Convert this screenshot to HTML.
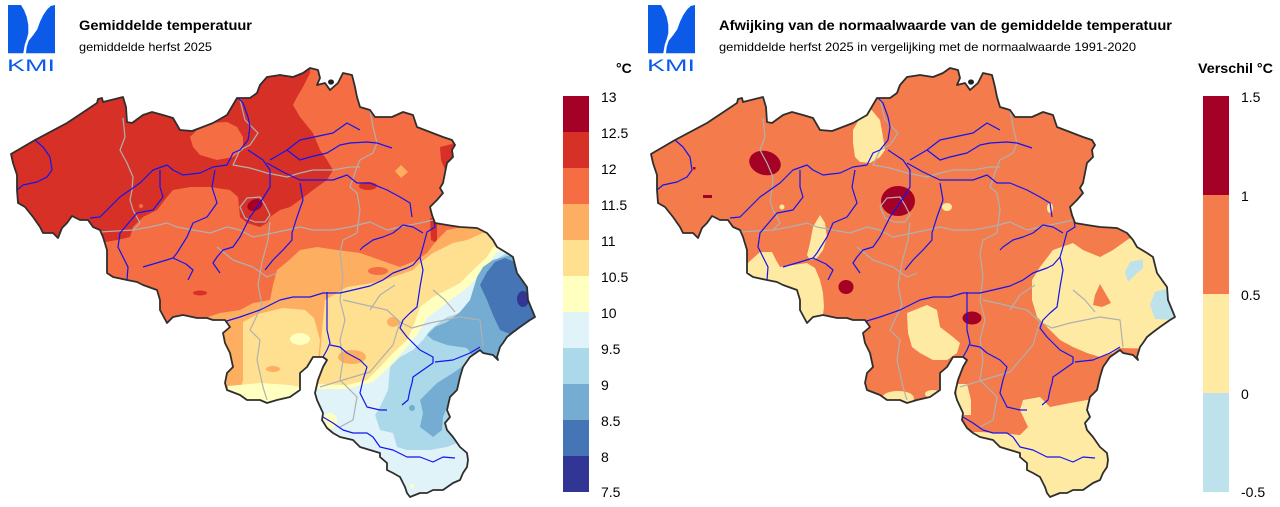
<!DOCTYPE html>
<html><head><meta charset="utf-8"><style>
html,body{margin:0;padding:0;background:#fff;}
svg{display:block;}
text{font-family:"Liberation Sans",Arial,sans-serif;}
</style></head><body>
<svg width="1280" height="507" viewBox="0 0 1280 507" xmlns="http://www.w3.org/2000/svg">
<defs>
<path id="bel" d="M11,154 L35,140 L67,123 L97,103 L98,99 L102,98 L103,102 L123,97 L126,107 L127,122 L132,123 L143,115 L152,112 L163,115 L173,118 L180,130 L192,131 L200,128 L213,123 L227,115 L237,98 L250,98 L257,93 L260,85 L267,77 L280,75 L293,77 L303,73 L310,68 L318,70 L320,78 L317,85 L325,83 L330,90 L338,83 L343,73 L352,75 L355,87 L357,97 L360,107 L370,110 L375,117 L392,117 L403,112 L413,115 L417,127 L430,132 L443,137 L452,140 L455,145 L452,150 L453,157 L447,163 L445,173 L443,183 L440,188 L443,193 L437,200 L430,207 L432,215 L435,223 L447,225 L460,227 L477,228 L487,233 L493,240 L497,247 L507,253 L513,257 L517,273 L527,287 L528,300 L535,317 L530,320 L520,327 L512,333 L507,337 L503,343 L500,347 L497,357 L498,360 L493,355 L483,353 L480,350 L470,357 L463,367 L460,377 L457,390 L450,397 L447,410 L450,417 L445,423 L447,430 L453,437 L460,447 L467,453 L468,460 L467,467 L463,473 L460,480 L453,483 L443,490 L433,490 L427,493 L420,493 L410,497 L407,493 L405,487 L400,477 L393,473 L387,470 L387,463 L380,457 L380,453 L370,450 L360,447 L353,440 L340,437 L333,433 L327,428 L322,420 L323,413 L317,400 L315,393 L318,380 L323,367 L327,360 L323,357 L313,357 L307,367 L300,373 L300,390 L290,397 L277,400 L267,403 L260,400 L247,400 L240,395 L227,390 L225,383 L227,373 L233,367 L230,353 L225,343 L223,333 L230,327 L225,320 L213,320 L207,318 L197,318 L183,315 L173,317 L167,323 L160,310 L160,300 L157,290 L143,285 L137,282 L127,280 L113,277 L107,273 L107,250 L103,237 L100,230 L93,227 L88,220 L80,220 L72,216 L67,223 L62,228 L58,238 L53,233 L43,233 L40,227 L33,217 L25,207 L18,203 L17,190 L17,175 L13,163 Z"/>
<clipPath id="cb" clipPathUnits="userSpaceOnUse"><use href="#bel"/></clipPath>
<g id="prov" fill="none" stroke="#b0b0b0" stroke-width="1.2" stroke-linejoin="round">
<path d="M123,118 L125,137 L120,150 L127,163 L133,177 L132,190 L130,200 L133,210 L140,223 L133,230"/>
<path d="M100,232 L133,230 L150,227 L167,223 L177,227 L193,230 L210,233 L227,227 L240,230 L253,237 L273,233 L287,230 L300,227 L313,230 L333,230 L350,227 L370,222 L387,230 L400,227 L420,223 L433,220"/>
<path d="M240,100 L245,120 L258,133 L250,145 L240,150 L233,165 L250,168 L267,173 L287,177 L300,173 L313,170 L333,170 L350,167 L360,167"/>
<path d="M370,110 L373,127 L377,143 L373,153 L360,160 L357,167 L350,187 L357,193 L360,210 L357,233 L343,240 L340,253 L343,277 L340,300 L345,320 L340,340 L343,360 L340,380 L357,397 L353,420 L340,427"/>
<path d="M240,207 L247,198 L260,197 L265,205 L270,215 L265,222 L255,222 L245,218 Z"/>
<path d="M270,222 L268,240 L262,262 L258,285 L262,305 L250,330 L260,340 L257,360 L263,387 L267,400"/>
<path d="M217,247 L233,260 L253,267 L267,277 L277,273"/>
<path d="M343,300 L365,305 L387,310 L400,322 L412,328 L430,323 L460,317 L480,320 L483,347 M400,322 L393,345 L380,360 L370,372 L343,380 L320,387"/>
<path d="M433,290 L445,300 L455,312 M395,285 L380,295 L370,310"/>
</g>
<g id="riv" fill="none" stroke="#1414f0" stroke-width="1.2" stroke-linejoin="round">
<path d="M35,140 L43,147 L50,157 L52,170 L47,177 L37,182 L23,185 L17,190"/>
<path d="M90,218 L100,217 L120,197 L140,183 L153,170 L167,165 L173,170 L183,175 L200,173 L213,167 L227,165 L233,153 L240,150 L248,140 L250,127 L248,117 L243,103 L238,98"/>
<path d="M127,280 L128,267 L123,257 L118,247 L120,233 L137,213 L153,210 L163,197 L160,187 L160,170"/>
<path d="M215,170 L212,187 L217,203 L207,217 L193,223 L187,237 L182,245 L177,253 L173,258 L160,262 L143,267"/>
<path d="M173,258 L186,264 L193,270 L188,280"/>
<path d="M248,150 L263,160 L270,170 L270,187 L260,203 L250,217 L240,237 L233,247 L223,250 L217,257 L213,263 L220,273"/>
<path d="M270,160 L287,150 L300,140 L333,133 L347,123 L360,130"/>
<path d="M287,150 L300,160 L310,157 L327,153 L340,145 L350,143 L367,142 L377,143 L392,148"/>
<path d="M267,163 L283,172 L300,180 L333,180 L347,175 L357,183 L370,183 L387,190 L400,197 L410,203 L412,217"/>
<path d="M300,183 L303,200 L297,217 L292,233 L292,240 L283,250 L273,260 L265,270"/>
<path d="M433,213 L435,227 L427,232 L423,247 L420,257 L413,265 L407,268 L393,273 L383,280 L370,286 L353,290 L340,293 L323,293 L310,297 L293,297 L280,300 L260,310 L240,317 L220,323"/>
<path d="M327,292 L327,313 L327,330 L330,343 L327,350 L323,357"/>
<path d="M330,345 L340,347 L347,353 L360,360 L367,367 L363,380 L360,393 L367,407 L380,410 L387,410"/>
<path d="M420,257 L423,270 L420,287 L417,307 L410,313 L403,320 L400,328 L407,337 L413,343 L420,350 L433,357 L433,363 L423,370 L413,377 L412,383 L410,390 L408,400 L402,405"/>
<path d="M435,362 L453,360 L470,353 L480,347"/>
<path d="M323,417 L333,423 L343,430 L353,433 L367,433 L373,437 L380,447 L393,450 L407,457 L420,457 L433,462 L443,457 L455,458"/>
<path d="M360,250 L363,247 L373,240 L383,237 L393,233 L403,225 L413,227 L423,233"/>
</g>
<g id="logo">
<path fill="#0b5be8" d="M8,5 L21,5 L24,10 L26.7,16.7 L28.3,25 L28.3,33.3 L26.7,39.3 L24.7,45 L23.3,53.3 L8,53.3 Z"/>
<path fill="#0b5be8" d="M50.7,6 L55,5 L55,53.3 L26,53.3 L26.7,46.7 L28.7,40.7 L33.3,35 L37.3,29.3 L40,21.7 L43.3,15 L47.3,9.3 Z"/>
<text x="7" y="71" font-size="17" fill="#0b5be8" textLength="48" lengthAdjust="spacingAndGlyphs">KMI</text>
</g>
</defs>

<!-- LEFT MAP -->
<use href="#logo"/>
<text x="79" y="30" font-size="14" font-weight="bold" fill="#000" textLength="173" lengthAdjust="spacingAndGlyphs">Gemiddelde temperatuur</text>
<text x="79" y="51" font-size="12" fill="#000" textLength="133" lengthAdjust="spacingAndGlyphs">gemiddelde herfst 2025</text>
<g clip-path="url(#cb)">
<rect x="0" y="50" width="560" height="457" fill="#f46d43"/>
<path fill="#d73027" d="M0,50 L312,50 L310,73 L303,87 L297,97 L293,105 L300,117 L313,133 L320,150 L327,160 L333,170 L327,180 L313,190 L300,200 L290,207 L280,210 L270,217 L267,223 L260,227 L247,223 L240,217 L238,197 L230,190 L210,187 L190,187 L173,190 L167,197 L157,210 L143,217 L133,227 L130,237 L117,240 L100,243 L0,243 Z"/>
<path fill="#f46d43" d="M190,137 L200,127 L210,123 L227,122 L237,127 L243,137 L243,150 L233,157 L217,160 L200,155 L193,147 Z"/>
<circle cx="141" cy="206" r="2" fill="#f46d43"/>
<ellipse cx="255" cy="205" rx="8" ry="5.5" fill="#a50026" transform="rotate(-25 255 205)"/>
<path fill="#d73027" d="M440,147 L456,143 L456,166 L446,172 L441,160 Z"/>
<ellipse cx="368" cy="186" rx="9" ry="4" fill="#d73027"/>
<path fill="#d73027" d="M430,218 L437,218 L437,243 L431,240 Z"/>
<ellipse cx="200" cy="293" rx="7" ry="2.5" fill="#d73027"/>
<path fill="#fdae61" d="M401,165 L408,172 L401,178 L395,171 Z"/>
<path fill="#fdae61" d="M160,330 L205,318 L220,313 L240,310 L253,303 L270,300 L273,285 L277,270 L287,262 L300,250 L317,247 L337,250 L360,253 L380,260 L400,267 L417,260 L427,253 L437,240 L447,230 L467,226 L600,226 L600,510 L160,510 Z"/>
<ellipse cx="378" cy="271" rx="10" ry="4" fill="#f46d43"/>
<path fill="#fee090" d="M243,322 L258,314 L283,308 L305,310 L314,318 L320,340 L318,362 L310,380 L305,400 L238,400 L243,380 L243,350 Z"/>
<ellipse cx="273" cy="369" rx="7" ry="3" fill="#fdae61"/>
<ellipse cx="300" cy="339" rx="10" ry="6" fill="#ffffbf"/>
<path fill="#ffffbf" d="M228,386 L260,383 L290,385 L305,388 L305,408 L228,408 Z"/>
<path fill="#fee090" d="M325,300 L347,287 L373,283 L393,277 L413,270 L420,263 L433,253 L453,243 L467,240 L483,233 L500,236 L600,236 L600,510 L312,510 L318,385 L322,330 Z"/>
<ellipse cx="352" cy="357" rx="14" ry="7" fill="#fdae61"/>
<ellipse cx="393" cy="322" rx="6" ry="5" fill="#fdae61"/>
<path fill="#ffffbf" d="M314,384 L347,385 L367,380 L380,367 L393,353 L407,340 L413,327 L420,307 L433,297 L447,290 L460,283 L473,270 L487,257 L493,247 L520,240 L600,240 L600,510 L300,510 Z"/>
<path fill="#e0f3f8" d="M314,389 L347,389 L373,382 L387,369 L400,355 L417,335 L427,318 L440,308 L453,298 L467,288 L480,275 L490,262 L497,252 L510,245 L600,245 L600,510 L300,510 Z"/>
<ellipse cx="330" cy="421" rx="7" ry="8" fill="#ffffbf"/>
<ellipse cx="412" cy="486" rx="2" ry="2" fill="#ffffbf"/>
<path fill="#abd9e9" d="M380,407 L388,390 L390,367 L400,357 L413,350 L423,340 L430,330 L440,322 L447,317 L460,313 L473,297 L477,280 L487,267 L500,257 L512,250 L600,250 L600,445 L457,443 L447,447 L430,450 L407,450 L397,447 L393,433 L380,430 L375,415 Z"/>
<path fill="#74add1" d="M477,277 L483,267 L493,260 L507,256 L600,256 L600,420 L447,407 L443,417 L442,430 L433,437 L420,427 L423,413 L420,400 L427,393 L437,383 L453,373 L467,363 L473,357 L467,348 L447,345 L433,340 L427,335 L435,327 L447,322 L460,312 L470,300 Z"/>
<circle cx="412" cy="408" r="3" fill="#74add1"/>
<path fill="#4575b4" d="M480,285 L487,272 L495,262 L505,258 L515,262 L525,278 L535,295 L540,318 L520,328 L510,334 L500,330 L493,315 L487,300 Z"/>
<ellipse cx="523" cy="299" rx="6" ry="8" fill="#313695"/>
</g>
<g clip-path="url(#cb)"><use href="#prov"/><use href="#riv"/></g>
<ellipse cx="331" cy="82" rx="3" ry="2.6" fill="#222"/>
<use href="#bel" fill="none" stroke="#2e2e2e" stroke-width="1.8" stroke-linejoin="round"/>

<!-- LEFT LEGEND -->
<text x="616" y="73" font-size="14" font-weight="bold" fill="#000">°C</text>
<rect x="563" y="96" width="26" height="36" fill="#a50026"/>
<rect x="563" y="132" width="26" height="36" fill="#d73027"/>
<rect x="563" y="168" width="26" height="36" fill="#f46d43"/>
<rect x="563" y="204" width="26" height="36" fill="#fdae61"/>
<rect x="563" y="240" width="26" height="36" fill="#fee090"/>
<rect x="563" y="276" width="26" height="36" fill="#ffffbf"/>
<rect x="563" y="312" width="26" height="36" fill="#e0f3f8"/>
<rect x="563" y="348" width="26" height="36" fill="#abd9e9"/>
<rect x="563" y="384" width="26" height="36" fill="#74add1"/>
<rect x="563" y="420" width="26" height="36" fill="#4575b4"/>
<rect x="563" y="456" width="26" height="36" fill="#313695"/>
<g font-size="14" fill="#000">
<text x="601" y="102">13</text>
<text x="601" y="138">12.5</text>
<text x="601" y="174">12</text>
<text x="601" y="210">11.5</text>
<text x="601" y="246">11</text>
<text x="601" y="282">10.5</text>
<text x="601" y="318">10</text>
<text x="601" y="354">9.5</text>
<text x="601" y="390">9</text>
<text x="601" y="426">8.5</text>
<text x="601" y="462">8</text>
<text x="601" y="497">7.5</text>
</g>

<!-- RIGHT MAP -->
<use href="#logo" x="640"/>
<text x="719" y="30" font-size="14" font-weight="bold" fill="#000" textLength="453" lengthAdjust="spacingAndGlyphs">Afwijking van de normaalwaarde van de gemiddelde temperatuur</text>
<text x="719" y="51" font-size="12" fill="#000" textLength="417" lengthAdjust="spacingAndGlyphs">gemiddelde herfst 2025 in vergelijking met de normaalwaarde 1991-2020</text>
<g transform="translate(640,0)">
<g clip-path="url(#cb)">
<rect x="0" y="50" width="560" height="457" fill="#f47b4b"/>
<path fill="#feeaa3" d="M230,108 L240,120 L243,137 L245,150 L240,157 L230,163 L220,162 L215,157 L213,143 L213,130 L220,118 Z"/>
<path fill="#feeaa3" d="M180,215 L185,223 L187,237 L183,250 L177,258 L170,260 L167,255 L170,243 L173,227 Z"/>
<path fill="#feeaa3" d="M120,252 L132,252 L136,260 L140,267 L153,265 L167,263 L175,268 L180,280 L183,293 L184,307 L182,322 L100,322 L100,270 Z"/>
<path fill="#feeaa3" d="M267,313 L287,305 L297,310 L300,327 L313,337 L320,343 L317,353 L307,360 L293,360 L280,353 L272,347 L268,333 Z"/>
<ellipse cx="258" cy="398" rx="16" ry="7" fill="#feeaa3"/>
<ellipse cx="293" cy="394" rx="8" ry="4" fill="#feeaa3"/>
<path fill="#feeaa3" d="M316,384 L327,384 L331,400 L331,415 L318,415 Z"/>
<path fill="#feeaa3" d="M433,243 L443,250 L460,257 L473,250 L487,240 L495,235 L560,235 L560,350 L480,348 L473,353 L460,357 L447,353 L433,347 L420,340 L407,327 L397,317 L392,300 L392,280 L400,267 L413,250 Z"/>
<path fill="#f47b4b" d="M460,284 L471,303 L462,307 L453,305 L455,295 Z"/>
<path fill="#bee2ec" d="M490,262 L503,259 L503,268 L495,275 L488,282 L485,272 Z"/>
<path fill="#bee2ec" d="M515,292 L525,289 L537,308 L535,320 L515,319 L510,305 Z"/>
<path fill="#feeaa3" d="M383,400 L400,397 L410,407 L430,403 L447,400 L475,398 L475,505 L300,505 L318,432 L340,432 L360,433 L380,435 L388,427 L380,410 Z"/>
<ellipse cx="125" cy="163" rx="16" ry="12" fill="#a50026" transform="rotate(15 125 163)"/>
<ellipse cx="258" cy="201" rx="17" ry="15" fill="#a50026"/>
<ellipse cx="206" cy="287" rx="7.5" ry="7" fill="#a50026"/>
<ellipse cx="332" cy="318" rx="9.5" ry="6.5" fill="#a50026"/>
<rect x="63" y="195" width="9" height="3" fill="#a50026"/>
<rect x="53" y="167" width="2.5" height="2.5" fill="#a50026"/>
<circle cx="142" cy="207" r="2.5" fill="#feeaa3"/>
<ellipse cx="307" cy="207" rx="5" ry="4" fill="#feeaa3"/>
<ellipse cx="410" cy="208" rx="3" ry="5" fill="#feeaa3"/>
</g>
<g clip-path="url(#cb)"><use href="#prov"/><use href="#riv"/></g>
<ellipse cx="331" cy="82" rx="3" ry="2.6" fill="#222"/>
<use href="#bel" fill="none" stroke="#2e2e2e" stroke-width="1.8" stroke-linejoin="round"/>
</g>

<!-- RIGHT LEGEND -->
<text x="1198" y="73" font-size="14" font-weight="bold" fill="#000" textLength="75" lengthAdjust="spacingAndGlyphs">Verschil °C</text>
<rect x="1203" y="96" width="26" height="99" fill="#a50026"/>
<rect x="1203" y="195" width="26" height="99" fill="#f47b4b"/>
<rect x="1203" y="294" width="26" height="99" fill="#feeaa3"/>
<rect x="1203" y="393" width="26" height="99" fill="#bee2ec"/>
<g font-size="14" fill="#000">
<text x="1241" y="102">1.5</text>
<text x="1241" y="201">1</text>
<text x="1241" y="300">0.5</text>
<text x="1241" y="399">0</text>
<text x="1241" y="497">-0.5</text>
</g>
</svg>
</body></html>
